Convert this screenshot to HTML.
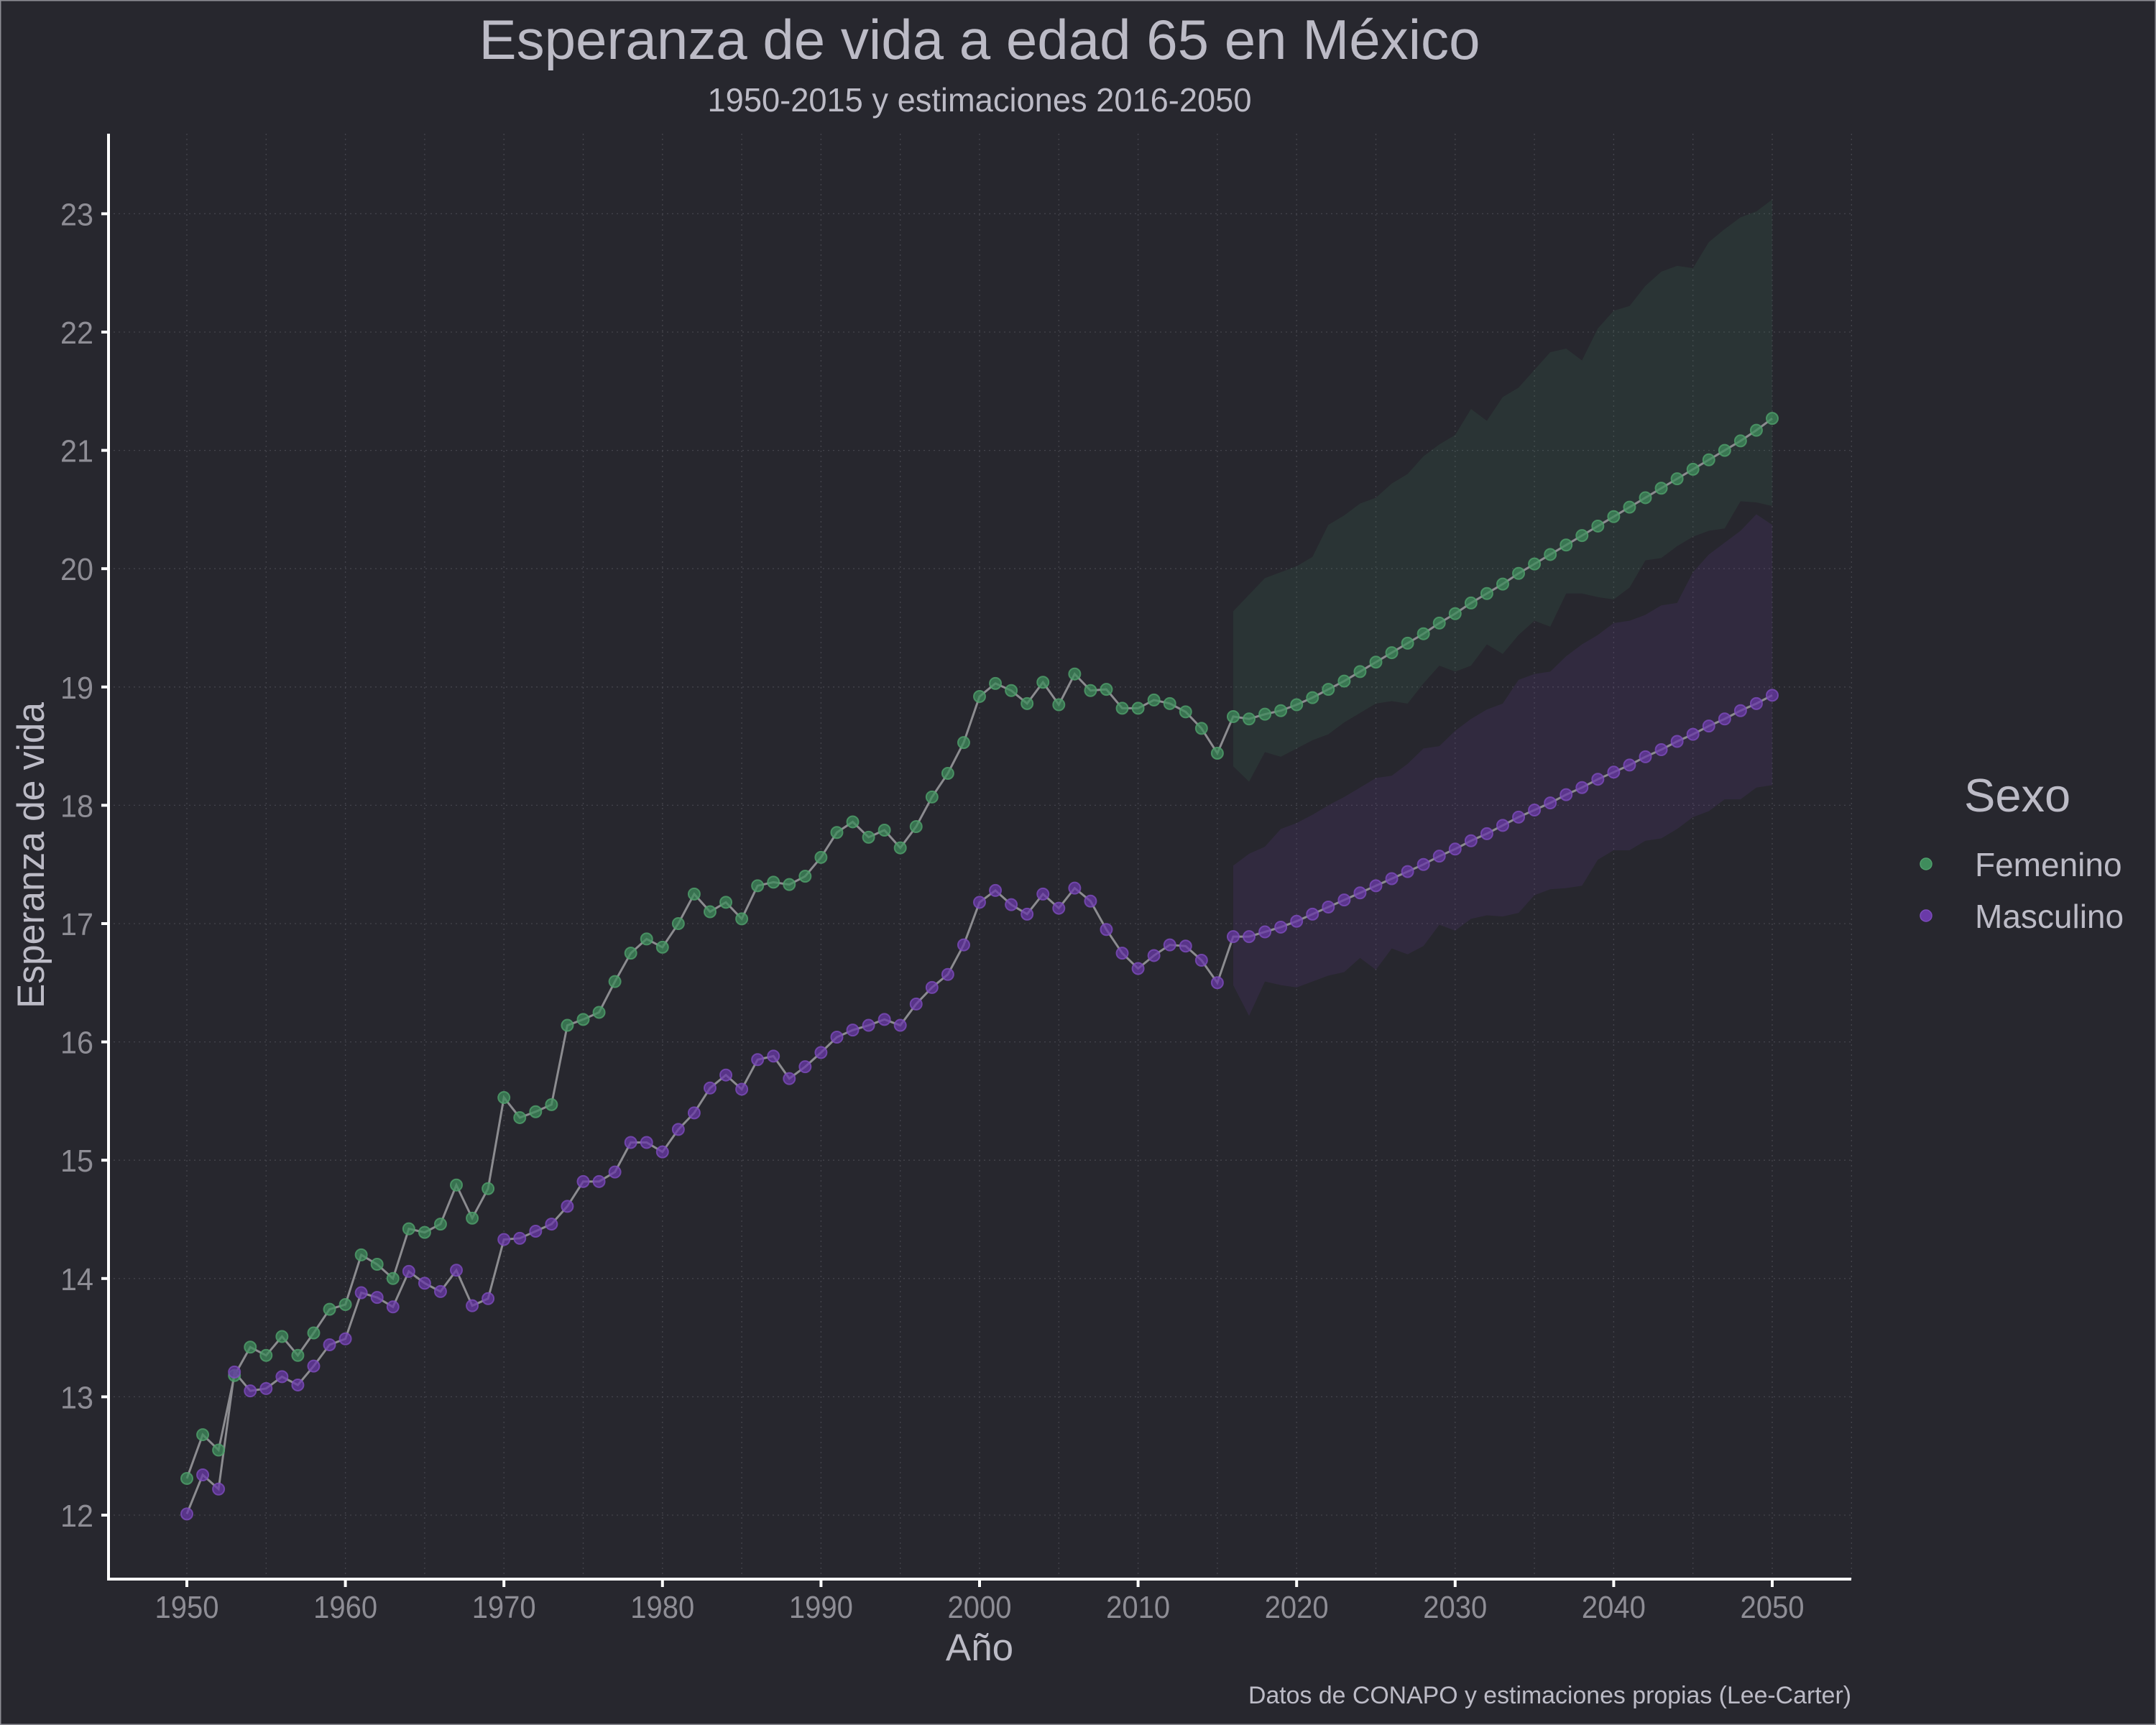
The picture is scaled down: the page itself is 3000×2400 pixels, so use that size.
<!DOCTYPE html>
<html><head><meta charset="utf-8"><style>
html,body{margin:0;padding:0;background:#27272e;}
svg{display:block;}
text{font-family:"Liberation Sans","DejaVu Sans",sans-serif;}
</style></head>
<body>
<svg id="chart" width="3000" height="2400" viewBox="0 0 3000 2400" xmlns="http://www.w3.org/2000/svg">
<rect x="0" y="0" width="3000" height="2400" fill="#27272e" stroke="#8d8d94" stroke-width="3"/>
<g id="grid"></g>
<g id="bands"></g>
<g id="lines"></g>
<g id="points"></g>
<g id="axes"></g>
<text x="1363" y="82" text-anchor="middle" font-size="78" fill="#bcbbc6" textLength="1393" lengthAdjust="spacingAndGlyphs">Esperanza de vida a edad 65 en México</text>
<text x="1363" y="155" text-anchor="middle" font-size="46" fill="#bcbbc6" textLength="757" lengthAdjust="spacingAndGlyphs">1950-2015 y estimaciones 2016-2050</text>
<text x="1363" y="2310" text-anchor="middle" font-size="53" fill="#bcbbc6">Año</text>
<text transform="translate(61,1190) rotate(-90)" x="0" y="0" text-anchor="middle" font-size="53" fill="#bcbbc6" textLength="426" lengthAdjust="spacingAndGlyphs">Esperanza de vida</text>
<text x="2576" y="2370" text-anchor="end" font-size="34" fill="#bcbbc6" textLength="839" lengthAdjust="spacingAndGlyphs">Datos de CONAPO y estimaciones propias (Lee-Carter)</text>
<g>
<text x="2733" y="1129" font-size="65" fill="#bcbbc6">Sexo</text>
<g>
<circle cx="2680" cy="1202" r="8" fill="#3f8c5c" stroke="#4fa06c" stroke-width="1.5"/>
<text x="2748" y="1219" font-size="46" fill="#bcbbc6">Femenino</text>
</g>
<g>
<circle cx="2680" cy="1274" r="8" fill="#6a3aa8" stroke="#7d4cbc" stroke-width="1.5"/>
<text x="2748" y="1291" font-size="46" fill="#bcbbc6">Masculino</text>
</g>
</g>
</svg>
<script>
const years = [];
for (let y = 1950; y <= 2050; y++) years.push(y);
const femenino = [12.31,12.68,12.55,13.18,13.42,13.35,13.51,13.35,13.54,13.74,13.78,14.20,14.12,14.00,14.42,14.39,14.46,14.79,14.51,14.76,15.53,15.36,15.41,15.47,16.14,16.19,16.25,16.51,16.75,16.87,16.80,17.00,17.25,17.10,17.18,17.04,17.32,17.35,17.33,17.40,17.56,17.77,17.86,17.73,17.79,17.64,17.82,18.07,18.27,18.53,18.92,19.03,18.97,18.86,19.04,18.85,19.11,18.97,18.98,18.82,18.82,18.89,18.86,18.79,18.65,18.44,18.75,18.73,18.77,18.80,18.85,18.91,18.98,19.05,19.13,19.21,19.29,19.37,19.45,19.54,19.62,19.71,19.79,19.87,19.96,20.04,20.12,20.20,20.28,20.36,20.44,20.52,20.60,20.68,20.76,20.84,20.92,21.00,21.08,21.17,21.27];
const masculino = [12.01,12.34,12.22,13.21,13.05,13.07,13.17,13.10,13.26,13.44,13.49,13.88,13.84,13.76,14.06,13.96,13.89,14.07,13.77,13.83,14.33,14.34,14.40,14.46,14.61,14.82,14.82,14.90,15.15,15.15,15.07,15.26,15.40,15.61,15.72,15.60,15.85,15.88,15.69,15.79,15.91,16.04,16.10,16.14,16.19,16.14,16.32,16.46,16.57,16.82,17.18,17.28,17.16,17.08,17.25,17.13,17.30,17.19,16.95,16.75,16.62,16.73,16.82,16.81,16.69,16.50,16.89,16.89,16.93,16.97,17.02,17.08,17.14,17.20,17.26,17.32,17.38,17.44,17.50,17.57,17.63,17.70,17.76,17.83,17.90,17.96,18.02,18.09,18.15,18.22,18.28,18.34,18.41,18.47,18.54,18.60,18.67,18.73,18.80,18.86,18.93];
const forecastYears = [];
for (let y = 2016; y <= 2050; y++) forecastYears.push(y);
const femUpper = [19.64,19.78,19.92,19.97,20.02,20.10,20.37,20.45,20.55,20.60,20.72,20.80,20.95,21.05,21.13,21.35,21.25,21.45,21.53,21.68,21.83,21.86,21.76,22.03,22.18,22.22,22.39,22.51,22.56,22.54,22.76,22.87,22.97,23.02,23.12];
const femLower = [18.33,18.20,18.45,18.41,18.48,18.55,18.60,18.70,18.78,18.86,18.88,18.86,19.03,19.18,19.13,19.18,19.36,19.28,19.44,19.56,19.51,19.79,19.79,19.76,19.74,19.84,20.07,20.09,20.19,20.27,20.32,20.34,20.57,20.56,20.53];
const mascUpper = [17.49,17.59,17.65,17.80,17.85,17.92,18.00,18.07,18.15,18.23,18.25,18.35,18.48,18.50,18.63,18.73,18.81,18.86,19.06,19.11,19.13,19.26,19.36,19.44,19.54,19.56,19.61,19.69,19.71,19.97,20.12,20.22,20.32,20.46,20.37];
const mascLower = [16.48,16.22,16.51,16.48,16.46,16.51,16.56,16.59,16.71,16.61,16.79,16.74,16.81,16.99,16.94,17.04,17.07,17.06,17.09,17.24,17.29,17.30,17.32,17.54,17.62,17.62,17.70,17.72,17.80,17.90,17.95,18.05,18.05,18.15,18.17];
const yTicks = [12,13,14,15,16,17,18,19,20,21,22,23];
const xTicks = [1950,1960,1970,1980,1990,2000,2010,2020,2030,2040,2050];
const xGrid = [1945,1950,1955,1960,1965,1970,1975,1980,1985,1990,1995,2000,2005,2010,2015,2020,2025,2030,2035,2040,2045,2050,2055];

const NS = 'http://www.w3.org/2000/svg';
const X0 = 151, X1 = 2576, YTOP = 186, YBOT = 2197;
function xs(v){ return 260 + (v - 1950) * 22.06; }
function ys(v){ return 2108 - (v - 12) * 164.6; }
function mk(tag, attrs, parent){
  const el = document.createElementNS(NS, tag);
  for (const k in attrs) el.setAttribute(k, attrs[k]);
  parent.appendChild(el);
  return el;
}
const grid = document.getElementById('grid');
xGrid.forEach(v => {
  const l = mk('line', {x1: xs(v), x2: xs(v), y1: YTOP, y2: YBOT, stroke: '#44444c', 'stroke-width': 1.3, 'stroke-dasharray': '2 5'}, grid);
  
  
});
yTicks.forEach(v => {
  const l = mk('line', {x1: X0, x2: X1, y1: ys(v), y2: ys(v), stroke: '#44444c', 'stroke-width': 1.3, 'stroke-dasharray': '2 5'}, grid);
  
  
});

const bands = document.getElementById('bands');
function band(upper, lower, fill, name){
  let d = '';
  forecastYears.forEach((y,i) => { d += (i ? 'L' : 'M') + xs(y) + ' ' + ys(upper[i]) + ' '; });
  for (let i = forecastYears.length - 1; i >= 0; i--) d += 'L' + xs(forecastYears[i]) + ' ' + ys(lower[i]) + ' ';
  const p = mk('path', {d: d + 'Z', fill: fill}, bands);
  
  
}
band(femUpper, femLower, 'rgba(70,150,100,0.13)', 'band-femenino');
band(mascUpper, mascLower, 'rgba(120,70,180,0.13)', 'band-masculino');

const lines = document.getElementById('lines');
const pts = document.getElementById('points');
function series(vals, fill, stroke, name){
  const pl = mk('polyline', {points: years.map((y,i) => xs(y) + ',' + ys(vals[i])).join(' '), fill: 'none', stroke: '#8c8c90', 'stroke-width': 3}, lines);
  
  
  years.forEach((y,i) => {
    const c = mk('circle', {cx: xs(y), cy: ys(vals[i]), r: 8, fill: fill, stroke: stroke, 'stroke-width': 2}, pts);
    
    
  });
}
series(femenino, 'rgba(63,140,92,0.75)', 'rgba(80,160,108,0.8)', 'femenino');
series(masculino, 'rgba(106,58,168,0.75)', 'rgba(125,76,188,0.8)', 'masculino');

const axes = document.getElementById('axes');
const ya = mk('line', {x1: X0, x2: X0, y1: YTOP, y2: YBOT + 2, stroke: '#ffffff', 'stroke-width': 4}, axes);


const xa = mk('line', {x1: X0 - 2, x2: X1, y1: YBOT, y2: YBOT, stroke: '#ffffff', 'stroke-width': 4}, axes);


yTicks.forEach(v => {
  const t = mk('line', {x1: X0 - 10, x2: X0, y1: ys(v), y2: ys(v), stroke: '#ffffff', 'stroke-width': 4}, axes);
  
  
  const lb = mk('text', {x: 130, y: ys(v) + 16, 'text-anchor': 'end', 'font-size': 44, fill: '#8e8d95', textLength: 46, lengthAdjust: 'spacingAndGlyphs'}, axes);
  lb.textContent = v;
  
  
});
xTicks.forEach(v => {
  const t = mk('line', {x1: xs(v), x2: xs(v), y1: YBOT, y2: YBOT + 11, stroke: '#ffffff', 'stroke-width': 4}, axes);
  
  
  const lb = mk('text', {x: xs(v), y: 2251, 'text-anchor': 'middle', 'font-size': 44, fill: '#8e8d95', textLength: 89, lengthAdjust: 'spacingAndGlyphs'}, axes);
  lb.textContent = v;
  
  
});
</script>
</body></html>
